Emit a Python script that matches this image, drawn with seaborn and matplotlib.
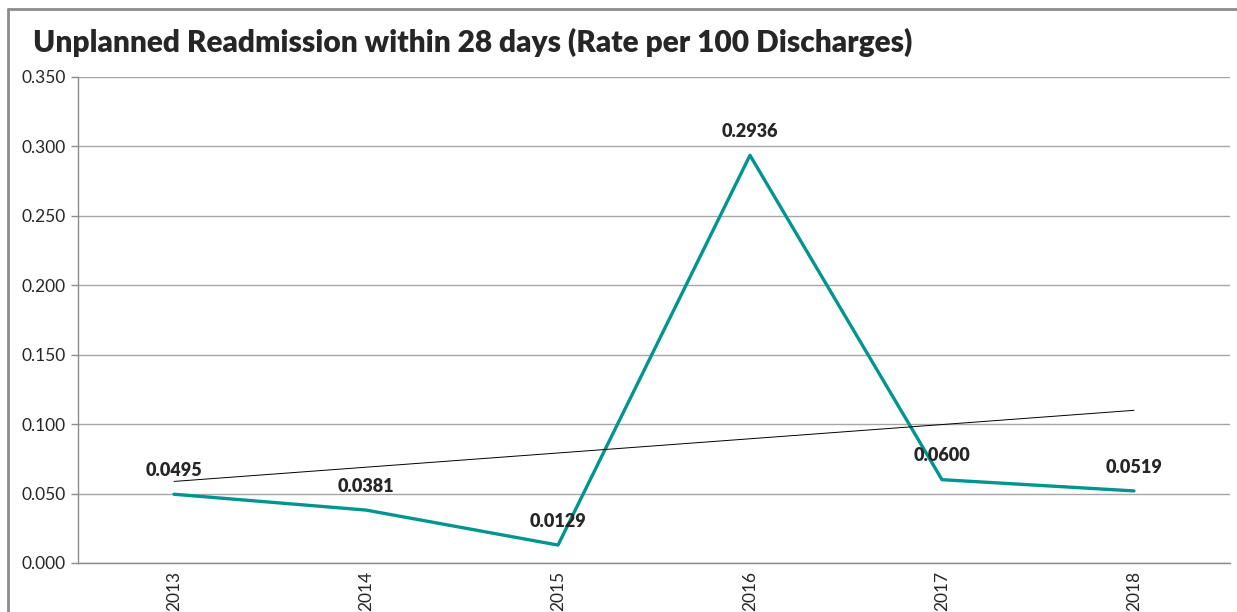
import numpy as np
import pandas as pd
import seaborn as sns
from matplotlib import pyplot as plt
from matplotlib.lines import Line2D

# chart data
years = ['2013', '2014', '2015', '2016', '2017', '2018']
rates = [0.0495, 0.0381, 0.0129, 0.2936, 0.0600, 0.0519]
y_ticks = [0.0, 0.05, 0.10, 0.15, 0.20, 0.25, 0.30, 0.35]

df = pd.DataFrame({'pos': np.arange(len(years)), 'year': years, 'rate': rates})

sns.set_style('white')
plt.rcParams['font.family'] = ['Lato', 'DejaVu Sans']

fig = plt.figure(figsize=(12.37, 6.12), dpi=100)
ax = fig.add_axes([0.0631, 0.0801, 0.9312, 0.7941])

# outer chart border (only top and left are visible)
bx, by = 8 / 1237, 1 - 9 / 612
fig.lines.append(Line2D([bx, 1.0], [by, by], transform=fig.transFigure, color='#8c8c8c', linewidth=2))
fig.lines.append(Line2D([bx, bx], [0.0, by], transform=fig.transFigure, color='#8c8c8c', linewidth=2))

sns.lineplot(data=df, x='pos', y='rate', color='#00968F', linewidth=2.4, ax=ax)

# linear trend line
fit = np.polyfit(df['pos'], df['rate'], 1)
sns.lineplot(x=df['pos'], y=np.polyval(fit, df['pos']), color='black', linewidth=0.7, ax=ax)

# data labels
for p, r in zip(df['pos'], df['rate']):
    ax.annotate(f'{r:.4f}', (p, r), xytext=(0, 11), textcoords='offset points',
                ha='center', va='bottom', fontsize=13, fontweight='heavy')

ax.set_xlim(-0.5, len(years) - 0.5)
ax.set_ylim(0, 0.35)
ax.set_yticks(y_ticks)
ax.set_yticklabels([f'{v:.3f}' for v in y_ticks], fontsize=12.5)
ax.set_xticks(df['pos'])
ax.set_xticklabels(years, rotation=90, fontsize=12.5)
ax.set_xticks(np.arange(-0.5, len(years)), minor=True)
ax.tick_params(axis='x', which='major', length=0, pad=6)
ax.tick_params(axis='x', which='minor', length=5, color='#8c8c8c', width=1)
ax.tick_params(axis='y', length=5, color='#8c8c8c', width=1, pad=4, left=True)
ax.grid(axis='y', color='#a6a6a6', linewidth=1)
ax.set_axisbelow(True)
ax.set_xlabel('')
ax.set_ylabel('')
for s in ['top', 'right']:
    ax.spines[s].set_visible(False)
for s in ['left', 'bottom']:
    ax.spines[s].set_color('#8c8c8c')
    ax.spines[s].set_linewidth(1)

fig.text(33 / 1237, 1 - 42 / 612, 'Unplanned Readmission within 28 days (Rate per 100 Discharges)',
         fontsize=21.5, fontweight='heavy', va='center', ha='left')

fig.savefig('out.png', dpi=100)
